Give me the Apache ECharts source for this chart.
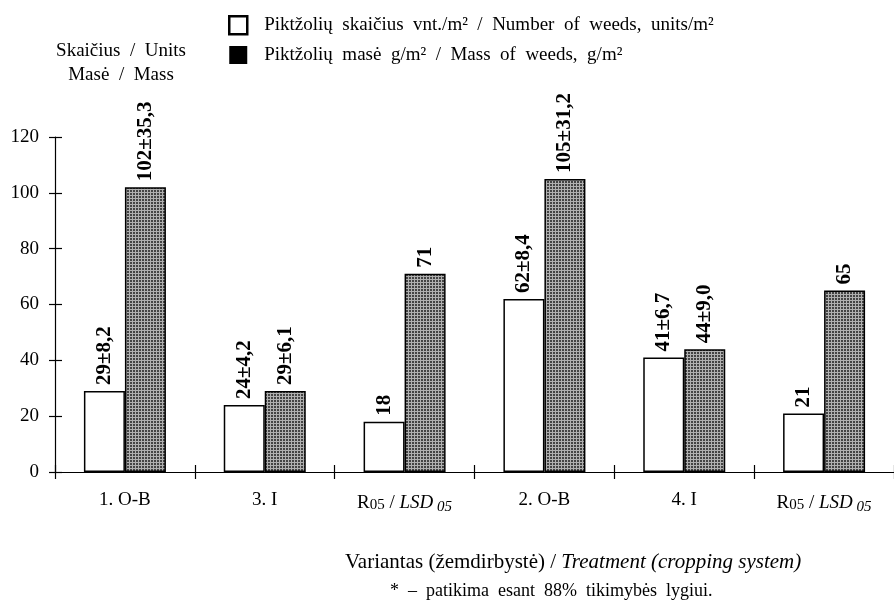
<!DOCTYPE html>
<html>
<head>
<meta charset="utf-8">
<script src="https://cdn.jsdelivr.net/npm/echarts@6/dist/echarts.min.js"></script>
<style>html,body{margin:0;padding:0;background:#fff;}#c{width:894px;height:606px;}</style>
</head>
<body>
<div id="c"></div>
<script>
var categories = ['1. O-B', '3. I', 'LSD', '2. O-B', '4. I', 'LSD'];
var weedsCount = [29, 24, 18, 62, 41, 21];
var weedsMass = [102, 29, 71, 105, 44, 65];
var countLabels = ['29±8,2', '24±4,2', '18', '62±8,4', '41±6,7', '21'];
var massLabels = ['102±35,3', '29±6,1', '71', '105±31,2', '44±9,0', '65'];
var yTicks = [0, 20, 40, 60, 80, 100, 120];
var seriesNames = ['Piktžolių  skaičius  vnt./m²  /  Number  of  weeds,  units/m²', 'Piktžolių  masė  g/m²  /  Mass  of  weeds,  g/m²'];

var FONT = '"Liberation Serif", "DejaVu Serif", serif';

var pc = document.createElement('canvas');
pc.width = 3; pc.height = 3;
var ctx = pc.getContext('2d');
ctx.fillStyle = '#444'; ctx.fillRect(0, 0, 3, 3);
ctx.fillStyle = '#b0b0b0'; ctx.fillRect(0, 0, 3, 1); ctx.fillRect(0, 0, 1, 3);

var chart = echarts.init(document.getElementById('c'), null, {renderer: 'canvas'});

function xLabel(v) {
  if (v === 'LSD') return '{n|R}{s|05}{n| / }{i|LSD}{is| 05}';
  return '{n|' + v + '}';
}

var barLabel = {
  show: true, position: 'top', rotate: 90, align: 'left', verticalAlign: 'middle', distance: 6,
  fontFamily: FONT, fontWeight: 'bold', fontSize: 21, color: '#000'
};

var option = {
  animation: false,
  backgroundColor: '#fff',
  grid: {left: 55, top: 137, bottom: 134, width: 844},
  legend: {
    orient: 'vertical', left: 223, top: 10,
    itemWidth: 18, itemHeight: 18, itemGap: 10,
    textStyle: {fontFamily: FONT, fontSize: 19, color: '#000', padding: [0, 0, 0, 12]},
    data: [
      {name: seriesNames[0], icon: 'rect', itemStyle: {color: '#fff', borderColor: '#000', borderWidth: 2.5}},
      {name: seriesNames[1], icon: 'rect', itemStyle: {color: '#000', borderColor: '#000', borderWidth: 0}}
    ]
  },
  xAxis: [{
    type: 'category', data: categories, position: 'bottom',
    axisLine: {lineStyle: {color: '#000', width: 1.2}},
    axisTick: {show: true, interval: 0, length: 7, lineStyle: {color: '#000', width: 1.2}},
    axisLabel: {
      interval: 0, margin: 19, color: '#000', fontFamily: FONT, fontSize: 19,
      formatter: xLabel,
      rich: {
        n: {fontFamily: FONT, fontSize: 19, color: '#000'},
        s: {fontFamily: FONT, fontSize: 15, color: '#000', padding: [4, 0, 0, 0]},
        i: {fontFamily: FONT, fontSize: 19, fontStyle: 'italic', color: '#000'},
        is: {fontFamily: FONT, fontSize: 15, fontStyle: 'italic', color: '#000', padding: [9, 0, 0, 0]}
      }
    }
  }, {
    type: 'category', data: categories, position: 'bottom',
    axisLine: {show: false},
    axisTick: {show: true, interval: 0, inside: true, length: 7, lineStyle: {color: '#000', width: 1.2}},
    axisLabel: {show: false, interval: 0}
  }],
  yAxis: [{
    type: 'value', min: 0, max: 120, interval: 20,
    axisLine: {show: true, lineStyle: {color: '#000', width: 1.2}},
    axisTick: {show: true, length: 6, lineStyle: {color: '#000', width: 1.2}},
    splitLine: {show: false},
    axisLabel: {margin: 16, color: '#000', fontFamily: FONT, fontSize: 19,
      formatter: function (v) { return yTicks.indexOf(v) >= 0 ? String(v) : ''; }}
  }, {
    type: 'value', min: 0, max: 120, interval: 20, position: 'left',
    axisLine: {show: false},
    axisTick: {show: true, inside: true, length: 7, lineStyle: {color: '#000', width: 1.2}},
    splitLine: {show: false},
    axisLabel: {show: false}
  }],
  series: [{
    name: seriesNames[0], type: 'bar', data: weedsCount, barWidth: 41, barGap: '0%',
    itemStyle: {color: '#fff', borderColor: '#000', borderWidth: 1.5},
    label: Object.assign({}, barLabel, {formatter: function (p) { return countLabels[p.dataIndex]; }})
  }, {
    name: seriesNames[1], type: 'bar', data: weedsMass, barWidth: 41, barGap: '0%',
    itemStyle: {color: {image: pc, repeat: 'repeat'}, borderColor: '#000', borderWidth: 1.5},
    label: Object.assign({}, barLabel, {formatter: function (p) { return massLabels[p.dataIndex]; }})
  }],
  graphic: [
    {type: 'text', x: 121, y: 51, style: {text: 'Skaičius  /  Units', font: '19px ' + FONT, fill: '#000', textAlign: 'center', textVerticalAlign: 'middle'}},
    {type: 'text', x: 121, y: 75, style: {text: 'Masė  /  Mass', font: '19px ' + FONT, fill: '#000', textAlign: 'center', textVerticalAlign: 'middle'}},
    {type: 'text', x: 345, y: 562, style: {
      text: '{n|Variantas (žemdirbystė) / }{i|Treatment (cropping system)}',
      textAlign: 'left', textVerticalAlign: 'middle',
      rich: {n: {font: '21px ' + FONT, fill: '#000'}, i: {font: 'italic 21px ' + FONT, fill: '#000'}}
    }},
    {type: 'text', x: 390, y: 591, style: {text: '*  –  patikima  esant  88%  tikimybės  lygiui.', font: '18px ' + FONT, fill: '#000', textAlign: 'left', textVerticalAlign: 'middle'}}
  ]
};
chart.setOption(option);
</script>
</body>
</html>
